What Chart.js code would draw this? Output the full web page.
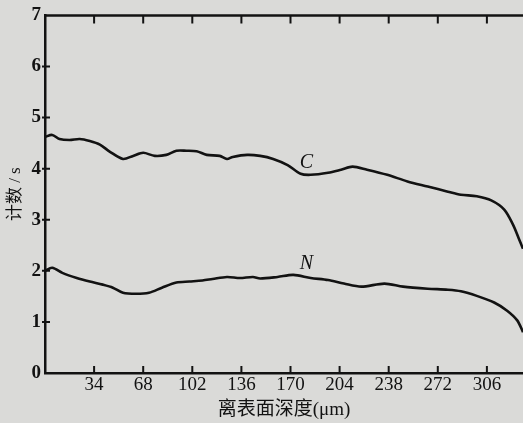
<!DOCTYPE html>
<html>
<head>
<meta charset="utf-8">
<script src="https://cdn.jsdelivr.net/npm/chart.js@4/dist/chart.umd.min.js"></script>
<style>
html,body{margin:0;padding:0;background:#dadad8;}
#wrap{width:523px;height:423px;}
</style>
</head>
<body>
<div id="wrap"><canvas id="c" width="523" height="423"></canvas></div>
<script>
const depthC = [0, 5, 10, 17, 24, 31, 38, 45, 54, 61, 68, 76, 84, 91, 98, 105, 112, 121, 126, 130, 140, 149, 158, 168, 177, 184, 196, 205, 213, 223, 237, 251, 265, 279, 288, 299, 309, 318, 324, 328, 331];
const countC = [4.62, 4.66, 4.58, 4.56, 4.58, 4.54, 4.47, 4.33, 4.19, 4.25, 4.31, 4.25, 4.27, 4.35, 4.35, 4.34, 4.27, 4.25, 4.19, 4.23, 4.27, 4.25, 4.19, 4.07, 3.90, 3.88, 3.92, 3.98, 4.04, 3.98, 3.88, 3.75, 3.65, 3.55, 3.49, 3.46, 3.38, 3.20, 2.91, 2.64, 2.43];
const depthN = [0, 5, 12, 22, 31, 40, 47, 54, 63, 72, 81, 91, 100, 109, 116, 126, 135, 144, 149, 161, 172, 184, 196, 207, 219, 235, 248, 265, 279, 288, 299, 311, 320, 327, 331];
const countN = [2.0, 2.06, 1.96, 1.86, 1.79, 1.73, 1.67, 1.57, 1.55, 1.57, 1.67, 1.77, 1.79, 1.81, 1.84, 1.88, 1.86, 1.88, 1.85, 1.88, 1.92, 1.86, 1.82, 1.75, 1.69, 1.75, 1.69, 1.65, 1.63, 1.60, 1.51, 1.38, 1.22, 1.03, 0.80];
const xTicks = [34, 68, 102, 136, 170, 204, 238, 272, 306];
const yTicks = [0, 1, 2, 3, 4, 5, 6, 7];
const seriesLabels = [
  {name: 'C', x: 181, y: 4.12},
  {name: 'N', x: 181, y: 2.14}
];
const xTitle = '离表面深度(μm)';
const yTitle = '计数 / s';

const INK = '#121212';
const serif = '"Liberation Serif", "DejaVu Serif", serif';
const cjk = '"Liberation Serif", "Noto Sans CJK SC", serif';

const pts = (xs, ys) => xs.map((x, i) => ({x: x, y: ys[i]}));

const decor = {
  id: 'decor',
  beforeDraw(chart) {
    const ctx = chart.ctx;
    ctx.save();
    ctx.fillStyle = '#dadad8';
    ctx.fillRect(0, 0, chart.width, chart.height);
    ctx.restore();
  },
  afterDraw(chart) {
    const ctx = chart.ctx;
    const xs = chart.scales.x, ys = chart.scales.y;
    const a = chart.chartArea;
    ctx.save();
    ctx.strokeStyle = INK;
    ctx.lineWidth = 2.5;
    ctx.beginPath();
    ctx.moveTo(a.left - 1, a.top);
    ctx.lineTo(a.right, a.top);
    ctx.stroke();
    ctx.lineWidth = 2;
    ctx.beginPath();
    xTicks.forEach(v => {
      const px = xs.getPixelForValue(v);
      ctx.moveTo(px, a.bottom);
      ctx.lineTo(px, a.bottom - 7);
      ctx.moveTo(px, a.top);
      ctx.lineTo(px, a.top + 8);
    });
    yTicks.forEach(v => {
      if (v === 0 || v === 7) return;
      const py = ys.getPixelForValue(v);
      ctx.moveTo(a.left - 3, py);
      ctx.lineTo(a.left + 5, py);
    });
    ctx.stroke();
    ctx.fillStyle = INK;
    ctx.font = 'italic 20px ' + serif;
    ctx.textAlign = 'center';
    ctx.textBaseline = 'middle';
    seriesLabels.forEach(l => {
      ctx.fillText(l.name, xs.getPixelForValue(l.x), ys.getPixelForValue(l.y));
    });
    ctx.restore();
  }
};

new Chart(document.getElementById('c'), {
  type: 'line',
  data: {
    datasets: [
      {label: 'C', data: pts(depthC, countC), borderColor: INK, borderWidth: 2.6, pointRadius: 0, tension: 0.3, fill: false},
      {label: 'N', data: pts(depthN, countN), borderColor: INK, borderWidth: 2.6, pointRadius: 0, tension: 0.3, fill: false}
    ]
  },
  plugins: [decor],
  options: {
    responsive: false,
    animation: false,
    layout: {padding: {top: 12, right: 0, left: 0, bottom: 0}},
    plugins: {legend: {display: false}, tooltip: {enabled: false}},
    scales: {
      x: {
        type: 'linear', min: 0, max: 331,
        afterBuildTicks: s => { s.ticks = xTicks.map(v => ({value: v})); },
        afterFit: s => { s.height = 50; },
        grid: {display: false, drawTicks: false},
        border: {display: true, color: INK, width: 2.5},
        ticks: {color: INK, padding: 1, font: {family: serif, size: 19}},
        title: {display: true, text: xTitle, color: INK, font: {family: cjk, size: 19}, padding: {top: 0, bottom: 2}}
      },
      y: {
        type: 'linear', min: 0, max: 7,
        afterBuildTicks: s => { s.ticks = yTicks.map(v => ({value: v})); },
        afterFit: s => { s.width = 45; },
        grid: {display: false, drawTicks: false},
        border: {display: true, color: INK, width: 2.5},
        ticks: {color: INK, padding: 4, font: {family: serif, size: 19, weight: 'bold'}},
        title: {display: true, text: yTitle, color: INK, font: {family: cjk, size: 17}, padding: {top: 5, bottom: 0}}
      }
    }
  }
});
</script>
</body>
</html>
